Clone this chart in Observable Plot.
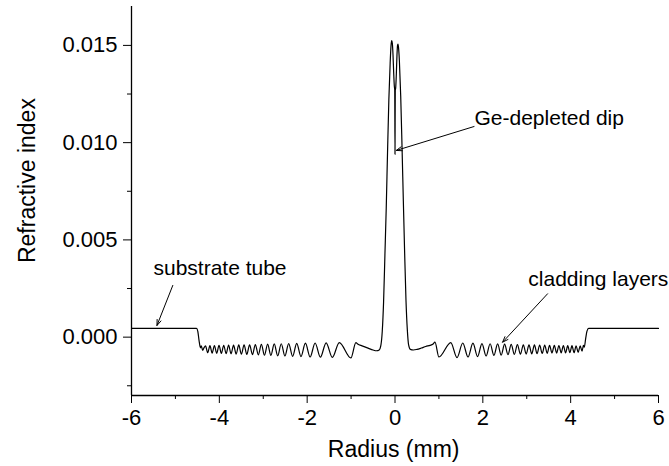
<!DOCTYPE html>
<html><head><meta charset="utf-8">
<script src="https://cdn.jsdelivr.net/npm/d3@7"></script>
<script src="https://cdn.jsdelivr.net/npm/@observablehq/plot@0.6"></script>
<style>
body{margin:0;background:#fff;}
#chart svg{display:block;}
</style></head><body><div id="chart"></div>
<script>
const xTicks = [-6, -4, -2, 0, 2, 4, 6];
const xMinorTicks = [-5, -3, -1, 1, 3, 5];
const yTicks = [0, 0.005, 0.010, 0.015];
const yMinorTicks = [-0.0025, 0.0025, 0.0075, 0.0125];

// substrate tube + left cladding layers
const leftRadius = [-6, -4.52, -4.49, -4.46, -4.43, -4.41, -4.38, -4.35,
  -4.314, -4.264, -4.214, -4.164, -4.112, -4.060, -4.007, -3.954, -3.900, -3.845,
  -3.789, -3.733, -3.676, -3.617, -3.558, -3.498, -3.437, -3.374, -3.311, -3.246,
  -3.180, -3.112, -3.043, -2.972, -2.900, -2.826, -2.750, -2.671, -2.590, -2.507,
  -2.421, -2.331, -2.238, -2.141, -2.040, -1.933, -1.819, -1.699, -1.568, -1.427,
  -1.269, -1.005, -0.89];
const leftIndex = [0.00045, 0.00045, 0.0003, -0.0002, -0.00055, -0.00045, -0.00068, -0.00055,
  -0.00045, -0.00080, -0.00044, -0.00082, -0.00043, -0.00083, -0.00042, -0.00084, -0.00042, -0.00085,
  -0.00041, -0.00086, -0.00041, -0.00087, -0.00040, -0.00088, -0.00040, -0.00089, -0.00039, -0.00090,
  -0.00038, -0.00091, -0.00037, -0.00093, -0.00036, -0.00094, -0.00035, -0.00096, -0.00034, -0.00097,
  -0.00033, -0.00099, -0.00032, -0.00100, -0.00031, -0.00102, -0.00030, -0.00103, -0.00029, -0.00104,
  -0.00028, -0.00107, -0.00028];

// core with the Ge-depleted dip
const coreRadius = [-0.85, -0.75, -0.6, -0.5, -0.42, -0.36, -0.32, -0.29, -0.26, -0.23, -0.20,
  -0.17, -0.14, -0.11, -0.09, -0.075, -0.06, -0.045, -0.03, -0.015, -0.006, 0, 0.006, 0.015,
  0.03, 0.045, 0.058, 0.068, 0.08, 0.10, 0.13, 0.16, 0.19, 0.22, 0.25, 0.28, 0.31, 0.35,
  0.42, 0.5, 0.6, 0.7, 0.8, 0.86];
const coreIndex = [-0.00035, -0.00045, -0.00058, -0.00066, -0.0007, -0.00066, -0.0004, 0.0003, 0.0018, 0.0042, 0.0066,
  0.0095, 0.0122, 0.0141, 0.0150, 0.01525, 0.0151, 0.0145, 0.0136, 0.0129, 0.0127, 0.0094, 0.0127, 0.0128,
  0.0135, 0.0145, 0.0150, 0.01507, 0.0149, 0.0142, 0.0124, 0.0098, 0.0070, 0.0043, 0.0019, 0.0004, -0.0004, -0.00063,
  -0.00066, -0.00063, -0.00056, -0.00048, -0.00042, -0.00037];

// right cladding layers + substrate tube
const rightRadius = [0.91, 1.0, 1.27, 1.412, 1.543, 1.663, 1.775, 1.880, 1.980, 2.075, 2.166,
  2.253, 2.337, 2.418, 2.496, 2.572, 2.646, 2.718, 2.787, 2.856, 2.922, 2.987, 3.051, 3.114,
  3.175, 3.235, 3.294, 3.352, 3.409, 3.465, 3.520, 3.574, 3.628, 3.680, 3.732, 3.784, 3.834,
  3.884, 3.933, 3.982, 4.030, 4.077, 4.124, 4.171, 4.217, 4.26, 4.29, 4.31, 4.34, 4.37, 4.41, 6];
const rightIndex = [-0.00026, -0.00102, -0.00028, -0.00105, -0.0003, -0.00102, -0.00031, -0.001, -0.00033, -0.00097, -0.00034,
  -0.00094, -0.00035, -0.00092, -0.00036, -0.0009, -0.00037, -0.00089, -0.00038, -0.00088, -0.00039, -0.00087, -0.0004, -0.00086,
  -0.0004, -0.00085, -0.00041, -0.00084, -0.00041, -0.00083, -0.00042, -0.00082, -0.00042, -0.00082, -0.00043, -0.00081, -0.00043,
  -0.00081, -0.00044, -0.0008, -0.00044, -0.0008, -0.00045, -0.00078, -0.00045, -0.00072, -0.00042, -0.00052, -0.0001, 0.0003, 0.00045, 0.00045];

const noteLabels = ["substrate tube", "Ge-depleted dip", "cladding layers"];
const noteX = [-5.50, 1.81, 3.035];
const noteY = [0.00322, 0.01093, 0.00262];
const arrowX1 = [-5.06, 1.80, 3.474];
const arrowY1 = [0.00266, 0.01083, 0.00223];
const arrowX2 = [-5.42, 0.03, 2.45];
const arrowY2 = [0.0006, 0.0096, -0.00026];

const axisTitles = ["Radius (mm)", "Refractive index"];

const radius = leftRadius.concat(coreRadius, rightRadius);
const index = leftIndex.concat(coreIndex, rightIndex);
const profile = radius.map((r, i) => ({r, n: index[i]}));
const notes = noteLabels.map((t, i) => ({t, x: noteX[i], y: noteY[i]}));
const arrows = arrowX1.map((x1, i) => ({x1, y1: arrowY1[i], x2: arrowX2[i], y2: arrowY2[i]}));

const font = "'Liberation Sans', Arial, Helvetica, sans-serif";
const chart = Plot.plot({
  width: 669, height: 466,
  marginLeft: 131, marginRight: 11, marginTop: 6, marginBottom: 71,
  style: {fontFamily: font, fontSize: "21px", color: "black", background: "white", overflow: "visible"},
  x: {domain: [-6, 6]},
  y: {domain: [-0.003, 0.017]},
  marks: [
    Plot.axisX({ticks: xTicks, tickSize: 8, tickPadding: 6, tickFormat: d => String(d), label: null, fontSize: 22}),
    Plot.axisX({ticks: xMinorTicks, tickSize: 4, tickFormat: () => "", label: null}),
    Plot.axisY({ticks: yTicks, tickSize: 8, tickPadding: 6, tickFormat: d3.format(".3f"), label: null, fontSize: 22}),
    Plot.axisY({ticks: yMinorTicks, tickSize: 4, tickFormat: () => "", label: null}),
    Plot.ruleY([-0.003], {stroke: "black", strokeWidth: 1.3}),
    Plot.ruleX([-6], {stroke: "black", strokeWidth: 1.3}),
    Plot.line(profile, {x: "r", y: "n", stroke: "black", strokeWidth: 1.2, curve: "monotone-x"}),
    Plot.arrow(arrows, {x1: "x1", y1: "y1", x2: "x2", y2: "y2", stroke: "black", strokeWidth: 1, headLength: 9, headAngle: 40}),
    Plot.text(notes, {x: "x", y: "y", text: "t", textAnchor: "start", lineAnchor: "bottom", fontSize: 21, fill: "black"}),
    Plot.text([axisTitles[0]], {x: [-0.03], y: [-0.00614], text: d => d, textAnchor: "middle", lineAnchor: "bottom", fontSize: 23, fill: "black"}),
    Plot.text([axisTitles[1]], {x: [-8.2], y: [0.00805], text: d => d, rotate: -90, textAnchor: "middle", lineAnchor: "bottom", fontSize: 23, fill: "black"})
  ]
});
document.getElementById("chart").appendChild(chart);
</script>
</body></html>
